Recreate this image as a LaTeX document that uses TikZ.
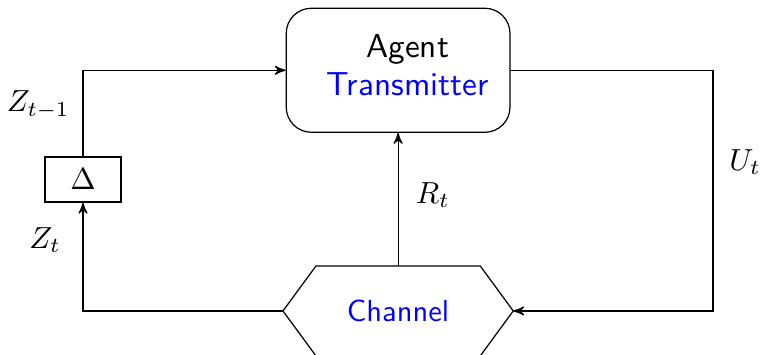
\documentclass[tikz,border=0pt]{standalone}
\usetikzlibrary{arrows}
\begin{document}
\begin{tikzpicture}[
	>=stealth',
	agentbox/.style={draw,rounded corners=0.29cm,minimum width=2.58cm,minimum height=1.43cm},
	delaybox/.style={draw,minimum width=0.875cm,minimum height=0.52cm,inner sep=0},
	chanbox/.style={minimum width=2.655cm,minimum height=1.036cm,inner sep=0,outer sep=0,font=\sffamily,text=blue}
	]
	\useasboundingbox (0,0) rectangle (8.82,-4.09);
	\node [agentbox] (agent) at (4.59,-0.81) {};
	\node [font=\sffamily\fontsize{10.9}{12.6}\selectfont,align=center] (agenttext) at (4.70,-0.75) {Agent\\ \textcolor{blue}{Transmitter}};
	\node [delaybox] (delta) at (0.957,-2.07) {$\Delta$};
	\node [chanbox] (chan) at (4.59,-3.585) {Channel};
	\draw (chan.west) -- ([xshift=0.38cm]chan.north west) -- ([xshift=-0.38cm]chan.north east) -- (chan.east)
		-- ([xshift=-0.38cm]chan.south east) -- ([xshift=0.38cm]chan.south west) -- cycle;
	\coordinate (uline) at (8.22,0);
	\draw[->] (delta.north) |- (agent.west);
	\draw[->] (chan.west) -| (delta.south);
	\draw[->] (chan.north) -- (agent.south);
	\draw[->] (agent.east) -| (uline |- chan.east) -- (chan.east);
	\node (zold) at (0.44,-1.21) {$Z_{t-1}$};
	\node (znew) at (0.52,-2.77) {$Z_t$};
	\node (rt) at (4.99,-2.25) {$R_t$};
	\node (ut) at (8.59,-1.87) {$U_t$};
\end{tikzpicture}
\end{document}
